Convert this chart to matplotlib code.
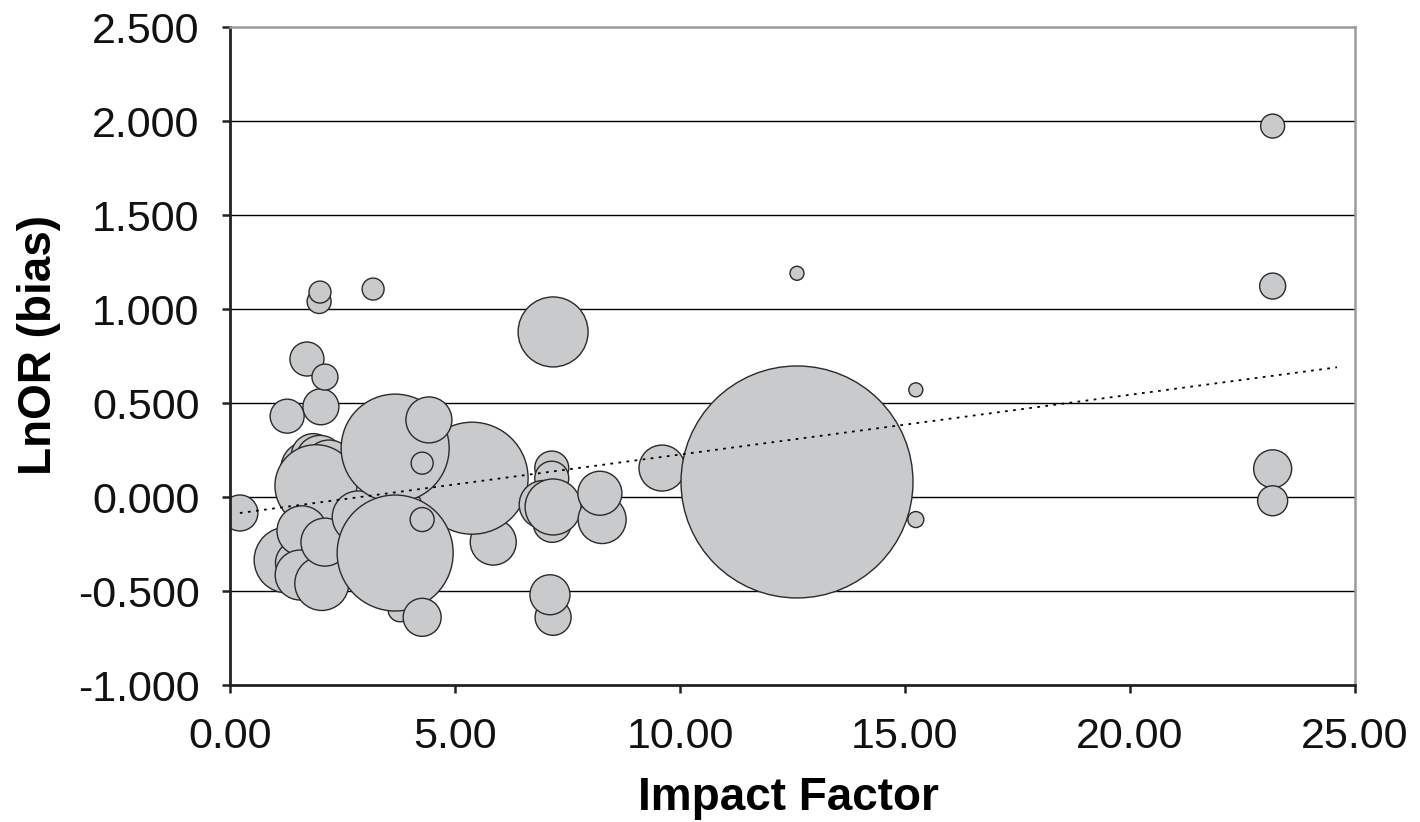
import matplotlib
matplotlib.use("Agg")
import matplotlib.pyplot as plt
import numpy as np

plt.rcParams['font.family'] = ['Liberation Sans', 'DejaVu Sans']

# bubbles listed in drawing order (first drawn = bottom)
impact = [1.75, 1.85, 2.00, 2.20, 1.91,
          5.85, 5.38,
          1.27, 1.50, 1.60, 1.56, 2.04, 2.11, 2.85,
          3.67, 3.78, 3.67,
          4.42, 4.27, 4.27, 4.27,
          0.22, 1.27, 2.02, 1.71, 2.11, 1.98, 2.00, 3.18,
          7.15, 7.15, 7.16, 6.96, 7.18,
          8.27, 8.22,
          7.18, 7.11, 7.18, 9.60,
          12.60, 12.60, 15.24, 15.24,
          23.17, 23.17, 23.17, 23.17]
lnor = [0.15, 0.22, 0.20, 0.17, 0.06,
        -0.24, 0.10,
        -0.335, -0.35, -0.18, -0.415, -0.46, -0.24, -0.106,
        0.26, -0.60, -0.298,
        0.41, 0.18, -0.12, -0.64,
        -0.085, 0.43, 0.48, 0.734, 0.638, 1.04, 1.09, 1.106,
        0.154, 0.10, -0.14, -0.04, -0.053,
        -0.12, 0.02,
        -0.64, -0.52, 0.878, 0.154,
        0.08, 1.19, 0.57, -0.12,
        1.973, 1.122, 0.150, -0.020]
# relative bubble size (radius)
bubble = [28, 22, 24, 25, 41,
          23, 56,
          33, 22, 25, 25, 27, 24, 26,
          54, 12, 58,
          23, 11, 12, 19,
          18, 17, 18, 17, 13, 12, 11, 11,
          17, 17, 19, 24, 28,
          24, 22,
          18, 20, 35, 23,
          116, 7, 7, 8,
          12, 13, 19, 15]

trend_x = [0.22, 24.60]
trend_y = [-0.085, 0.69]

x_ticks = [0, 5, 10, 15, 20, 25]
y_ticks = [-1.0, -0.5, 0.0, 0.5, 1.0, 1.5, 2.0, 2.5]

fig = plt.figure(figsize=(14.2, 8.22), dpi=100)
ax = fig.add_axes([230 / 1420, 1 - 685 / 822, 1125 / 1420, 658 / 822])

ax.set_xlim(0, 25)
ax.set_ylim(-1.0, 2.5)

for yv in y_ticks[1:-1]:
    ax.axhline(yv, color='black', lw=1.0, zorder=1)

sizes = [(2 * r * 0.72) ** 2 for r in bubble]
ax.scatter(impact, lnor, s=sizes, facecolor='#c9cacc', edgecolor='#2a2a2a',
           linewidths=1.0, zorder=2)

ax.plot(trend_x, trend_y, color='black', lw=1.3, linestyle=(0, (1.5, 3)), zorder=3)

ax.set_xticks(x_ticks)
ax.set_yticks(y_ticks)
ax.set_xticklabels(['%.2f' % v for v in x_ticks])
ax.set_yticklabels(['%.3f' % v for v in y_ticks])
ax.tick_params(axis='both', labelsize=31, colors='#111111', width=1.8, length=6,
               direction='out', color='#222222')
ax.tick_params(axis='y', pad=16)
ax.tick_params(axis='x', pad=17)

for side in ['left', 'bottom']:
    ax.spines[side].set_color('#222222')
    ax.spines[side].set_linewidth(2.0)
for side in ['top', 'right']:
    ax.spines[side].set_color('#9a9a9a')
    ax.spines[side].set_linewidth(1.8)

ax.set_xlabel('Impact Factor', fontsize=33, fontweight='bold')
ax.set_ylabel('LnOR (bias)', fontsize=33, fontweight='bold')
ax.xaxis.set_label_coords(0.496, -0.138)
ax.yaxis.set_label_coords(-0.150, 0.517)

fig.savefig('out.png', dpi=100)
